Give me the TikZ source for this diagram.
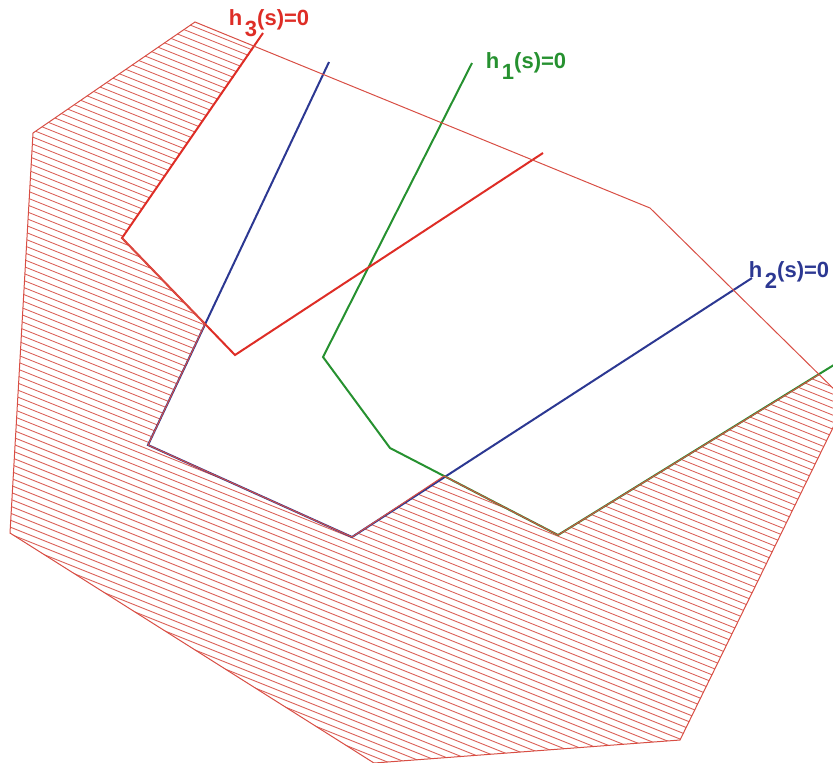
\documentclass[tikz,border=0pt]{standalone}
\usepackage{fontspec}
\setmainfont{Liberation Sans}
\definecolor{hred}{RGB}{222,45,38}
\definecolor{edgered}{RGB}{216,78,68}
\definecolor{hatchred}{RGB}{220,100,92}
\definecolor{hgreen}{RGB}{38,145,48}
\definecolor{hblue}{RGB}{44,56,146}
\tikzstyle{region} = [
    draw=edgered,
    line width=0.5pt,
    line join=miter
]
\tikzstyle{hatchline} = [
    draw=hatchred,
    line width=0.45pt
]
\tikzstyle{surface} = [
    line width=1pt,
    line join=miter
]
\tikzstyle{curvelabel} = [
    anchor=base west,
    inner sep=0pt,
    font=\fontsize{11}{13}\selectfont\bfseries
]
\newcommand{\hlabel}[1]{h\hspace{0.12em}\raisebox{-0.52em}{#1}(s)=0}

\begin{document}
\begin{tikzpicture}[x=0.5pt, y=-0.5pt]

\useasboundingbox (0,0) rectangle (833,762);
\clip (0,0) rectangle (833,762);

\coordinate (a) at (195,22);
\coordinate (b) at (33,133);
\coordinate (c) at (10,533);
\coordinate (d) at (374,763);
\coordinate (e) at (680,740);
\coordinate (f) at (846,401);
\coordinate (g) at (650,208);

\coordinate (t) at (255,46.5);
\coordinate (q1) at (122,238);
\coordinate (q2) at (205,324);
\coordinate (q3) at (148,445);
\coordinate (q4) at (352,537);
\coordinate (q5) at (444,476);
\coordinate (q6) at (558,535);
\coordinate (q7) at (819,374.5);

\begin{scope}
\clip (a) -- (t) -- (q1) -- (q2) -- (q3) -- (q4) -- (q5) -- (q6)
    -- (q7) -- (f) -- (e) -- (d) -- (c) -- (b) -- cycle;
\foreach \c in {-80,-73,...,620}
    \draw [hatchline] (-20,\c) -- (880,\c+360);
\end{scope}

\draw [surface, hblue] (329,62) -- (q3) -- (q4) -- (752,278);
\draw [surface, hgreen] (472,63) -- (323,357) -- (390,448) -- (q6)
    -- (850,355);
\draw [surface, hred] (263,33) -- (q1) -- (235,355) -- (543,153);

\draw [region] (a) -- (g) -- (f) -- (e) -- (d) -- (c) -- (b) -- cycle;
\draw [region] (q1) -- (q2) -- (q3) -- (q4) -- (q5) -- (q6) -- (q7);

\node (labelthree) [curvelabel, text=hred] at (228.5,25) {\hlabel{3}};
\node (labelone) [curvelabel, text=hgreen] at (485.5,68) {\hlabel{1}};
\node (labeltwo) [curvelabel, text=hblue] at (748.5,277) {\hlabel{2}};

\end{tikzpicture}
\end{document}
